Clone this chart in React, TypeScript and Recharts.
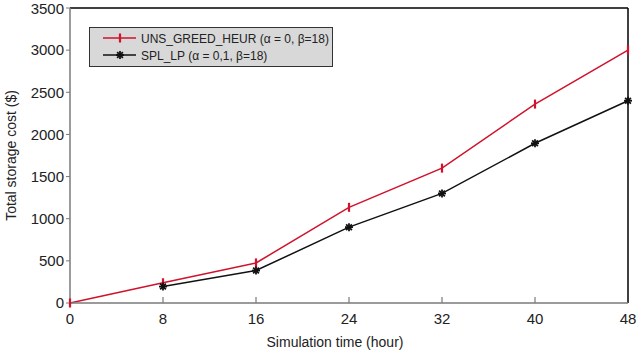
import React from 'react';
import { LineChart, Line, XAxis, YAxis, Legend, ReferenceLine, Label } from 'recharts';

// Simulation hours on the x axis
const hours = [0, 8, 16, 24, 32, 40, 48];
// Total storage cost ($) per series
const unsGreedHeur = [0, 240, 475, 1135, 1600, 2360, 3000];
const splLp: (number | null)[] = [null, 195, 385, 900, 1300, 1895, 2400];
const xTicks = [0, 8, 16, 24, 32, 40, 48];
const yTicks = [0, 500, 1000, 1500, 2000, 2500, 3000, 3500];
const seriesNames = ['UNS_GREED_HEUR (\u03b1 = 0, \u03b2=18)', 'SPL_LP (\u03b1 = 0,1, \u03b2=18)'];
const xTitle = 'Simulation time (hour)';
const yTitle = 'Total storage cost ($)';

const data = hours.map((h, i) => ({ hour: h, greedy: unsGreedHeur[i], splLp: splLp[i] }));

const FONT = '"Liberation Sans", Arial, sans-serif';
const RED = '#d0122c';
const BLACK = '#111111';
const AXIS_GRAY = '#7a7a7a';
const TEXT = '#222222';

const BarMark = ({ cx, cy, color }: any) => (
  <line x1={cx} x2={cx} y1={cy - 4.5} y2={cy + 4.5} stroke={color} strokeWidth={2.2} />
);

const StarMark = ({ cx, cy, color }: any) => {
  const r = 4;
  const d = r * 0.72;
  return (
    <g stroke={color} strokeWidth={1.8}>
      <line x1={cx} x2={cx} y1={cy - r} y2={cy + r} />
      <line x1={cx - r} x2={cx + r} y1={cy} y2={cy} />
      <line x1={cx - d} x2={cx + d} y1={cy - d} y2={cy + d} />
      <line x1={cx - d} x2={cx + d} y1={cy + d} y2={cy - d} />
    </g>
  );
};

const renderBarDot = (p: any) => {
  if (p.cx == null || p.cy == null || p.value == null) return <g key={p.index} />;
  return <BarMark key={p.index} cx={p.cx} cy={p.cy} color={RED} />;
};

const renderStarDot = (p: any) => {
  if (p.cx == null || p.cy == null || p.value == null) return <g key={p.index} />;
  return <StarMark key={p.index} cx={p.cx} cy={p.cy} color={BLACK} />;
};

const X_TICK_MARGIN = 9;

// x-axis ticks point into the plot area
const XTick = ({ x, y, payload }: any) => {
  const axisY = y - X_TICK_MARGIN;
  const v = payload.value;
  const inner = v !== xTicks[0] && v !== xTicks[xTicks.length - 1];
  return (
    <g>
      {inner && <line x1={x} x2={x} y1={axisY} y2={axisY - 6} stroke={AXIS_GRAY} strokeWidth={1.2} />}
      <text x={x} y={y} dy={12} textAnchor="middle" fill={TEXT} fontSize={15} fontFamily={FONT}>
        {v}
      </text>
    </g>
  );
};

const LEGEND_W = 242;
const LEGEND_H = 38;

const LegendBox = () => {
  const colors = [RED, BLACK];
  return (
    <div
      style={{
        background: '#d8d8d8',
        border: '1px solid #333',
        width: LEGEND_W,
        height: LEGEND_H,
        boxSizing: 'content-box',
        fontFamily: FONT,
        color: TEXT,
        position: 'relative',
      }}
    >
      <svg width={LEGEND_W} height={LEGEND_H} style={{ position: 'absolute', left: 0, top: 0 }}>
        {seriesNames.map((name, i) => {
          const cy = 10 + i * 17;
          return (
            <g key={name}>
              <line x1={13} x2={46} y1={cy} y2={cy} stroke={colors[i]} strokeWidth={1.5} />
              {i === 0 ? <BarMark cx={30} cy={cy} color={colors[i]} /> : <StarMark cx={30} cy={cy} color={colors[i]} />}
              <text x={51} y={cy} dy={4.5} fill={TEXT} fontSize={12} fontFamily={FONT}>
                {name}
              </text>
            </g>
          );
        })}
      </svg>
    </div>
  );
};

export default function App() {
  return (
    <div style={{ position: 'absolute', left: 0, top: 0, background: '#fff' }}>
      <LineChart width={643} height={358} data={data} margin={{ top: 8, right: 15, bottom: 5, left: 10 }}>
        <XAxis
          dataKey="hour"
          type="number"
          domain={[0, 48]}
          ticks={xTicks}
          height={50}
          tickSize={0}
          tickMargin={X_TICK_MARGIN}
          tickLine={false}
          tick={<XTick />}
          axisLine={{ stroke: AXIS_GRAY, strokeWidth: 1.5 }}
        >
          <Label
            value={xTitle}
            position="insideBottom"
            offset={6}
            dx={-14}
            fill={TEXT}
            fontSize={14}
            fontFamily={FONT}
          />
        </XAxis>
        <YAxis
          type="number"
          domain={[0, 3500]}
          ticks={yTicks}
          width={60}
          tickSize={4}
          tickMargin={2}
          tick={{ fill: TEXT, fontSize: 15, fontFamily: FONT }}
          tickLine={{ stroke: AXIS_GRAY }}
          axisLine={{ stroke: AXIS_GRAY, strokeWidth: 1.5 }}
        >
          <Label
            value={yTitle}
            angle={-90}
            position="insideLeft"
            offset={1}
            fill={TEXT}
            fontSize={14}
            fontFamily={FONT}
            style={{ textAnchor: 'middle' }}
          />
        </YAxis>
        <ReferenceLine y={3500} stroke="#000" strokeWidth={1.5} />
        <ReferenceLine x={48} stroke="#000" strokeWidth={1.5} />
        <Legend
          layout="horizontal"
          verticalAlign="middle"
          content={<LegendBox />}
          wrapperStyle={{ left: 89, top: 27, width: 'auto' }}
        />
        <Line
          dataKey="greedy"
          name={seriesNames[0]}
          stroke={RED}
          strokeWidth={1.5}
          dot={renderBarDot}
          activeDot={false}
          isAnimationActive={false}
        />
        <Line
          dataKey="splLp"
          name={seriesNames[1]}
          stroke={BLACK}
          strokeWidth={1.5}
          dot={renderStarDot}
          activeDot={false}
          connectNulls={false}
          isAnimationActive={false}
        />
      </LineChart>
    </div>
  );
}
